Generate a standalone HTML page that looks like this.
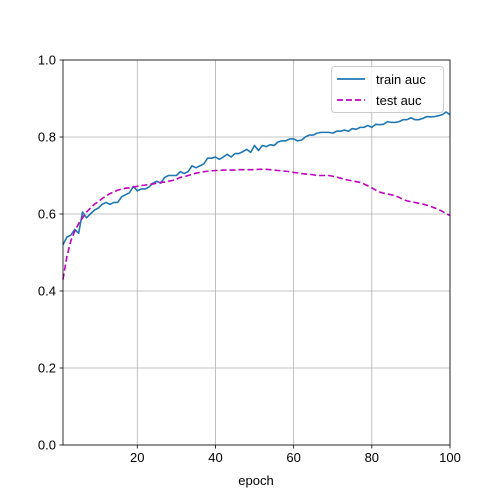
<!DOCTYPE html>
<html><head><meta charset="utf-8"><style>
html,body{margin:0;padding:0;background:#fff;}
svg{display:block;font-family:"Liberation Sans","DejaVu Sans",sans-serif;}
</style></head><body>
<svg id="chart" width="500" height="500" viewBox="0 0 500 500">
<rect width="500" height="500" fill="#fff"/>
<g id="grid"></g><g id="series"></g><g id="axes"></g>
<g>
<rect x="331.5" y="66.5" width="112" height="46" rx="3" fill="#fff" fill-opacity="0.8" stroke="#ccc"/>
<line x1="337" y1="79" x2="365" y2="79" stroke="#1f77b4" stroke-width="1.8"/>
<text x="376" y="84" font-size="13">train auc</text>
<line x1="337" y1="100" x2="365" y2="100" stroke="#bf00bf" stroke-width="1.8" stroke-dasharray="6,3"/>
<text x="376" y="105" font-size="13">test auc</text>
</g>
<text x="256" y="485" font-size="13" text-anchor="middle">epoch</text>
</svg>
<script>
const trainAuc=[0.52,0.54,0.545,0.56,0.55,0.605,0.59,0.60,0.61,0.615,0.625,0.63,0.625,0.63,0.63,0.645,0.65,0.655,0.672,0.66,0.665,0.665,0.67,0.68,0.685,0.68,0.695,0.70,0.70,0.70,0.71,0.705,0.71,0.725,0.72,0.725,0.73,0.745,0.745,0.748,0.742,0.748,0.755,0.748,0.757,0.757,0.762,0.768,0.76,0.778,0.765,0.778,0.775,0.78,0.778,0.787,0.79,0.79,0.795,0.795,0.79,0.792,0.80,0.805,0.805,0.81,0.812,0.812,0.812,0.81,0.815,0.815,0.818,0.815,0.822,0.82,0.825,0.825,0.83,0.825,0.833,0.832,0.833,0.84,0.838,0.838,0.84,0.845,0.845,0.85,0.845,0.845,0.848,0.853,0.852,0.853,0.855,0.858,0.865,0.858];
const testAuc=[0.43,0.49,0.53,0.555,0.575,0.59,0.605,0.615,0.625,0.632,0.64,0.647,0.653,0.657,0.662,0.665,0.667,0.668,0.67,0.672,0.674,0.675,0.677,0.678,0.68,0.682,0.683,0.685,0.687,0.69,0.695,0.697,0.7,0.703,0.706,0.708,0.71,0.711,0.712,0.713,0.713,0.714,0.714,0.714,0.714,0.715,0.715,0.715,0.715,0.715,0.716,0.716,0.716,0.715,0.714,0.713,0.712,0.711,0.71,0.708,0.707,0.705,0.704,0.703,0.702,0.7,0.7,0.7,0.7,0.698,0.696,0.693,0.69,0.688,0.686,0.684,0.682,0.678,0.673,0.668,0.662,0.657,0.654,0.652,0.65,0.647,0.643,0.638,0.634,0.632,0.63,0.628,0.626,0.623,0.62,0.616,0.612,0.607,0.601,0.596];
const xTicks=[20,40,60,80,100];
const yTicks=[0.0,0.2,0.4,0.6,0.8,1.0];
const X0=63,X1=450,Y0=445,Y1=60,xMin=1,xMax=100;
const xs=v=>X0+(v-xMin)/(xMax-xMin)*(X1-X0);
const ys=v=>Y0-v*(Y0-Y1);
const NS="http://www.w3.org/2000/svg";
function mk(tag,attrs,parent){const e=document.createElementNS(NS,tag);for(const k in attrs)e.setAttribute(k,attrs[k]);parent.appendChild(e);return e;}
const grid=document.getElementById('grid'),axes=document.getElementById('axes'),series=document.getElementById('series');
xTicks.forEach(t=>{const x=xs(t);
 const g=mk('line',{x1:x,x2:x,y1:Y1,y2:Y0,stroke:'#b0b0b0','stroke-width':0.8},grid);
 
 
 mk('line',{x1:x,x2:x,y1:Y0,y2:Y0+3.5,stroke:'#000','stroke-width':0.8},axes);
 const tx=mk('text',{x:x,y:Y0+17,'font-size':13,'text-anchor':'middle'},axes);tx.textContent=t;
 
 
});
yTicks.forEach(t=>{const y=ys(t);
 const g=mk('line',{x1:X0,x2:X1,y1:y,y2:y,stroke:'#b0b0b0','stroke-width':0.8},grid);
 
 
 mk('line',{x1:X0-3.5,x2:X0,y1:y,y2:y,stroke:'#000','stroke-width':0.8},axes);
 const tx=mk('text',{x:X0-7,y:y+4.5,'font-size':13,'text-anchor':'end'},axes);tx.textContent=t.toFixed(1);
 
 
});
const frame=mk('rect',{x:X0,y:Y1,width:X1-X0,height:Y0-Y1,fill:'none',stroke:'#000','stroke-width':0.8},axes);


function pts(arr){return arr.map((v,i)=>xs(i+1).toFixed(2)+','+ys(v).toFixed(2)).join(' ');}
const tr=mk('polyline',{points:pts(trainAuc),fill:'none',stroke:'#1f77b4','stroke-width':1.6,'stroke-linejoin':'round'},series);


const te=mk('polyline',{points:pts(testAuc),fill:'none',stroke:'#bf00bf','stroke-width':1.6,'stroke-dasharray':'6,3'},series);


</script>
</body></html>
